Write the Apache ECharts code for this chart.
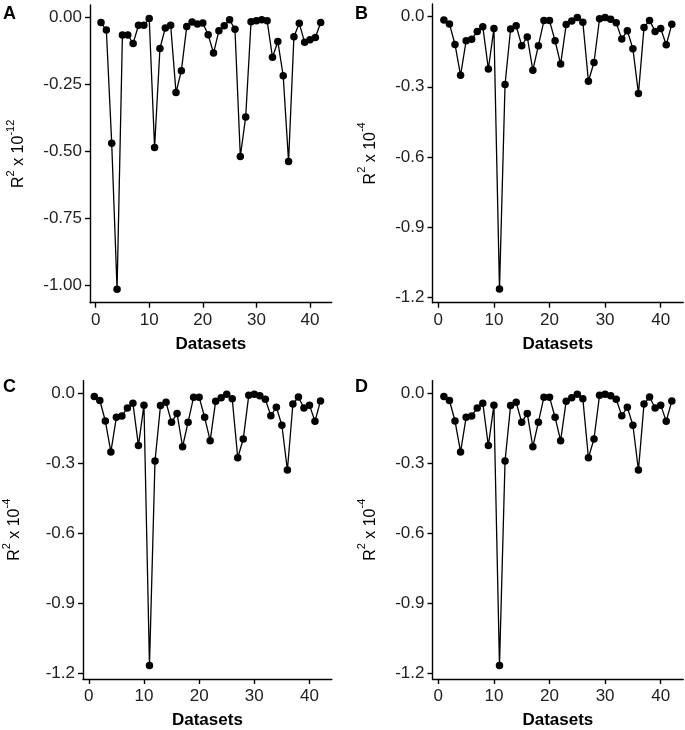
<!DOCTYPE html>
<html>
<head>
<meta charset="utf-8">
<script src="https://cdn.jsdelivr.net/npm/echarts@6/dist/echarts.min.js"></script>
<style>
html,body{margin:0;padding:0;background:#fff;}
#chart{width:685px;height:730px;}
</style>
</head>
<body>
<div id="chart"></div>
<script>
// Dataset indices 1..42
const datasets = Array.from({length: 42}, (_, i) => i + 1);

// Panel A (R^2 x 10^-12)
const valuesA = [-0.019,-0.047,-0.470,-1.016,-0.066,-0.066,-0.097,-0.029,-0.029,-0.004,
                 -0.486,-0.116,-0.039,-0.029,-0.281,-0.199,-0.034,-0.017,-0.024,-0.021,
                 -0.065,-0.133,-0.050,-0.031,-0.009,-0.044,-0.520,-0.372,-0.016,-0.012,
                 -0.009,-0.012,-0.149,-0.090,-0.218,-0.539,-0.072,-0.022,-0.093,-0.083,
                 -0.075,-0.019];
// Panel B (R^2 x 10^-4)
const valuesB = [-0.014,-0.031,-0.119,-0.251,-0.103,-0.097,-0.063,-0.043,-0.224,-0.051,
                 -1.165,-0.290,-0.053,-0.039,-0.124,-0.087,-0.229,-0.124,-0.017,-0.017,
                 -0.103,-0.203,-0.034,-0.019,-0.004,-0.024,-0.276,-0.196,-0.009,-0.004,
                 -0.011,-0.026,-0.096,-0.060,-0.137,-0.329,-0.046,-0.016,-0.063,-0.051,
                 -0.120,-0.033];
// Panel C (R^2 x 10^-4)
const valuesC = [-0.014,-0.031,-0.119,-0.251,-0.103,-0.097,-0.063,-0.043,-0.224,-0.051,
                 -1.165,-0.290,-0.053,-0.039,-0.124,-0.087,-0.229,-0.124,-0.017,-0.017,
                 -0.103,-0.203,-0.034,-0.019,-0.004,-0.024,-0.276,-0.196,-0.009,-0.004,
                 -0.011,-0.026,-0.096,-0.060,-0.137,-0.329,-0.046,-0.016,-0.063,-0.051,
                 -0.120,-0.033];
// Panel D (R^2 x 10^-4)
const valuesD = [-0.014,-0.031,-0.119,-0.251,-0.103,-0.097,-0.063,-0.043,-0.224,-0.051,
                 -1.165,-0.290,-0.053,-0.039,-0.124,-0.087,-0.229,-0.124,-0.017,-0.017,
                 -0.103,-0.203,-0.034,-0.019,-0.004,-0.024,-0.276,-0.196,-0.009,-0.004,
                 -0.011,-0.026,-0.096,-0.060,-0.137,-0.329,-0.046,-0.016,-0.063,-0.051,
                 -0.120,-0.033];

// Tick labels
const xTicks = [0, 10, 20, 30, 40];
const yTicksA = [0, -0.25, -0.5, -0.75, -1.0];
const yTicksB = [0, -0.3, -0.6, -0.9, -1.2];
const panelLetters = ['A', 'B', 'C', 'D'];
const xTitle = 'Datasets';
const yExponents = ['-12', '-4', '-4', '-4'];

const FONT = '"Liberation Sans", Arial, sans-serif';

function expanded(vals) {
  const mn = Math.min(...vals), mx = Math.max(...vals);
  const pad = (mx - mn) * 0.05;
  return [mn - pad, mx + pad];
}
const xRange = expanded(datasets);

const panels = [
  {vals: valuesA, ticks: yTicksA, dec: 2, grid: {left: 90, top: 5, width: 241.7, height: 297.7}, gap: 63},
  {vals: valuesB, ticks: yTicksB, dec: 1, grid: {left: 432.5, top: 4, width: 250.7, height: 298.7}, gap: 54},
  {vals: valuesC, ticks: yTicksB, dec: 1, grid: {left: 80.8, top: 380.6, width: 251, height: 299}, gap: 60},
  {vals: valuesD, ticks: yTicksB, dec: 1, grid: {left: 432.5, top: 380.6, width: 250.7, height: 299}, gap: 54}
];

const axisLineStyle = {color: '#000', width: 1.4};

const option = {
  animation: false,
  backgroundColor: '#fff',
  grid: panels.map(p => Object.assign({containLabel: false}, p.grid)),
  xAxis: panels.map((p, i) => ({
    gridIndex: i, type: 'value', min: xRange[0], max: xRange[1],
    axisLine: {show: true, onZero: false, lineStyle: axisLineStyle},
    axisTick: {show: true, length: 5, lineStyle: axisLineStyle, customValues: xTicks},
    axisLabel: {customValues: xTicks, margin: 9, color: '#222', fontSize: 17, fontFamily: FONT},
    splitLine: {show: false},
    name: xTitle, nameLocation: 'middle', nameGap: 33,
    nameTextStyle: {fontSize: 17, fontWeight: 'bold', color: '#000', fontFamily: FONT}
  })),
  yAxis: panels.map((p, i) => {
    const r = expanded(p.vals);
    return {
      gridIndex: i, type: 'value', min: r[0], max: r[1],
      axisLine: {show: true, onZero: false, lineStyle: axisLineStyle},
      axisTick: {show: true, length: 5, lineStyle: axisLineStyle, customValues: p.ticks},
      axisLabel: {customValues: p.ticks, margin: 8, color: '#222', fontSize: 17, fontFamily: FONT,
        formatter: v => (Math.abs(v) < 1e-9 ? 0 : v).toFixed(p.dec)},
      splitLine: {show: false},
      name: '{n|R}{s|2}{n| x 10}{s|' + yExponents[i] + '}',
      nameLocation: 'middle', nameRotate: 90, nameGap: p.gap,
      nameTextStyle: {
        color: '#000', fontFamily: FONT, fontSize: 16,
        rich: {
          n: {fontSize: 16, fontFamily: FONT, color: '#000', lineHeight: 22, verticalAlign: 'bottom'},
          s: {fontSize: 11, fontFamily: FONT, color: '#000', lineHeight: 22, verticalAlign: 'top'}
        }
      }
    };
  }),
  series: panels.map((p, i) => ({
    type: 'line', xAxisIndex: i, yAxisIndex: i,
    data: datasets.map((d, k) => [d, p.vals[k]]),
    symbol: 'circle', symbolSize: 7.5,
    itemStyle: {color: '#000'},
    lineStyle: {color: '#000', width: 1.3},
    z: 3
  })),
  graphic: panelLetters.map((t, i) => ({
    type: 'text',
    left: i % 2 === 0 ? 3 : 355,
    top: i < 2 ? 5 : 378,
    style: {text: t, fontSize: 18, fontWeight: 'bold', fontFamily: FONT, fill: '#000'}
  }))
};

const chart = echarts.init(document.getElementById('chart'), null, {renderer: 'canvas'});
chart.setOption(option);
</script>
</body>
</html>
